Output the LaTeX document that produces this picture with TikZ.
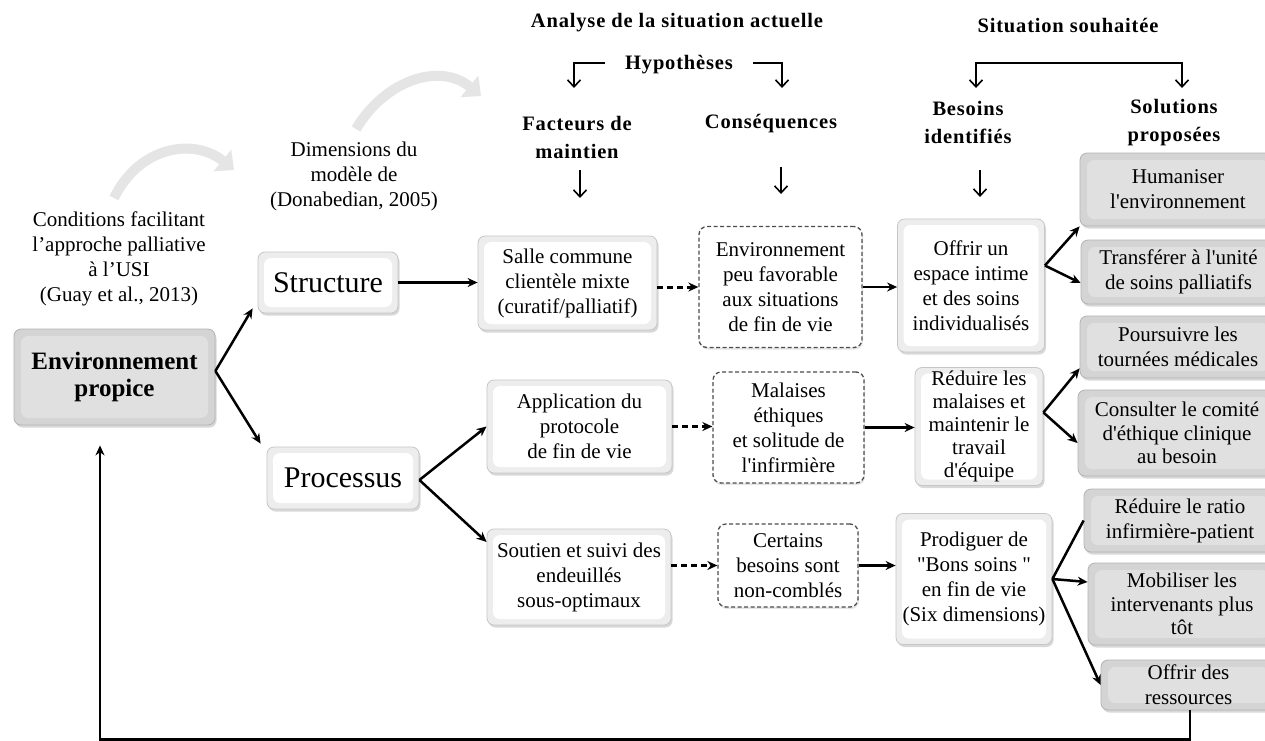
\documentclass[tikz,border=0pt]{standalone}
\usepackage{fontspec}
\setmainfont{Liberation Serif}
\newfontfamily\hfont[LetterSpace=4]{Liberation Serif}
\usetikzlibrary{arrows.meta,shadows}
\newcommand\myap{\textquotesingle}
\newcommand\mydq{\textquotedbl}
\begin{document}
\begin{tikzpicture}[x=1pt,y=-1pt,
  base/.style={inner sep=0pt, align=center, font=\fontsize{21}{25}\selectfont},
  hd/.style={inner sep=0pt, align=center, font=\hfont\bfseries\fontsize{20.5}{28}\selectfont},
  wb/.style={base, rectangle, rounded corners=7pt, draw=gray!45, line width=0.8pt, fill=gray!14,
     drop shadow={shadow xshift=1.5pt, shadow yshift=-2.5pt, opacity=0.3},
     path picture={\fill[white] ([shift={(6pt,-6pt)}]path picture bounding box.north west) rectangle ([shift={(-6pt,6pt)}]path picture bounding box.south east);}},
  gb/.style={base, rectangle, rounded corners=7pt, draw=gray!60, line width=0.8pt, fill=gray!34,
     drop shadow={shadow xshift=1.5pt, shadow yshift=-2.5pt, opacity=0.3},
     path picture={\fill[gray!24] ([shift={(7pt,-7pt)}]path picture bounding box.north west) rectangle ([shift={(-7pt,7pt)}]path picture bounding box.south east);}},
  db/.style={base, rectangle, rounded corners=8pt, draw=black!70, dash pattern=on 4pt off 2.5pt, line width=1.3pt, fill=white,
     drop shadow={shadow xshift=1pt, shadow yshift=-2pt, opacity=0.2}},
  arr/.style={line width=2.5pt, -{Stealth[length=10pt,width=9pt]}},
  darr/.style={arr, line width=3pt, dash pattern=on 6pt off 4pt},
  harr/.style={line width=1.6pt, -{Straight Barb[length=7pt,width=13pt]}},
  hboth/.style={line width=1.6pt, {Straight Barb[length=7pt,width=13pt]}-{Straight Barb[length=7pt,width=13pt]}},
  curv/.style={line width=10pt, gray!20, -{Triangle[length=15pt,width=27pt]}}
]
\clip (0,0) rectangle (1265,740);
\fill[white] (0,0) rectangle (1265,740);

% decorative curved arrows
\draw[curv] (114,198) .. controls (140,145) and (195,138) .. (234,170);
\draw[curv] (356,129) .. controls (385,80) and (440,62) .. (481,96);

% headers
\node[hd] (ana) at (677,23) {Analyse de la situation actuelle};
\node[hd] (hyp) at (679,65) {Hypothèses};
\node[hd] (fac) at (577,137) {Facteurs de\\maintien};
\node[hd] (csq) at (771,124) {Conséquences};
\node[hd] (sit) at (1068,25) {Situation souhaitée};
\node[hd] (bes) at (968,122) {Besoins\\identifiés};
\node[hd] (sol) at (1174,123) {Solutions\\proposées};

% left texts
\node[base] (cond) at (119,258.5) {Conditions facilitant\\l’approche palliative\\à l’USI\\(Guay et al., 2013)};
\node[base] (dim) at (354,176) {Dimensions du\\modèle de\\(Donabedian, 2005)};

% main nodes
\node[gb, minimum width=201pt, minimum height=96pt, font=\fontsize{25}{27}\selectfont\bfseries] (env) at (114.5,377) {Environnement\\propice};
\node[wb, minimum width=140pt, minimum height=61pt, font=\fontsize{30}{34}\selectfont] (str) at (328,282.5) {Structure};
\node[wb, minimum width=152pt, minimum height=62pt, font=\fontsize{30}{34}\selectfont] (proc) at (343,478) {Processus};

\node[wb, minimum width=179pt, minimum height=94pt] (salle) at (567.5,283) {Salle commune\\clientèle mixte\\(curatif/palliatif)};
\node[wb, minimum width=185pt, minimum height=93pt] (app) at (579.5,426.5) {Application du\\protocole\\de fin de vie};
\node[wb, minimum width=184pt, minimum height=96pt] (sout) at (579,577) {Soutien et suivi des\\endeuillés\\sous-optimaux};

\node[db, minimum width=163pt, minimum height=121pt] (envp) at (780.5,287) {Environnement\\peu favorable\\aux situations\\de fin de vie};
\node[db, minimum width=151pt, minimum height=111pt] (mal) at (788.5,427.5) {Malaises\\éthiques\\et solitude de\\l\myap infirmière};
\node[db, minimum width=140pt, minimum height=83pt] (cert) at (788,565.5) {Certains\\besoins sont\\non-comblés};

\node[wb, minimum width=147pt, minimum height=133pt] (offr) at (971,285.5) {Offrir un\\espace intime\\et des soins\\individualisés};
\node[wb, minimum width=128pt, minimum height=118pt, font=\fontsize{21}{23}\selectfont] (red) at (979,426.5) {Réduire les\\malaises et\\maintenir le\\travail\\d\myap équipe};
\node[wb, minimum width=156pt, minimum height=131pt] (prod) at (974,579) {Prodiguer de\\\mydq Bons soins \mydq\\en fin de vie\\(Six dimensions)};

\node[gb, minimum width=196pt, minimum height=73pt] (hum) at (1178,189.5) {Humaniser\\l\myap environnement};
\node[gb, minimum width=195pt, minimum height=64pt] (trans) at (1178.5,272) {Transférer à l\myap unité\\de soins palliatifs};
\node[gb, minimum width=196pt, minimum height=62pt] (pours) at (1178,347) {Poursuivre les\\tournées médicales};
\node[gb, minimum width=198pt, minimum height=86pt, font=\fontsize{21}{23.5}\selectfont] (cons) at (1177,433) {Consulter le comité\\d\myap éthique clinique\\au besoin};
\node[gb, minimum width=192pt, minimum height=63pt] (ratio) at (1180,520.5) {Réduire le ratio\\infirmière-patient};
\node[gb, minimum width=188pt, minimum height=82pt, font=\fontsize{21}{23.5}\selectfont] (mob) at (1182,604) {Mobiliser les\\intervenants plus\\tôt};
\node[gb, minimum width=175pt, minimum height=50pt, font=\fontsize{21}{25}\selectfont] (res) at (1188.5,685) {Offrir des\\ressources};

% header arrows
\coordinate (hl) at (574,88);
\coordinate (hr) at (782,88);
\draw[harr] ([xshift=-20pt,yshift=2pt]hyp.west) -| (hl);
\draw[harr] ([xshift=20pt,yshift=2pt]hyp.east) -| (hr);
\coordinate (fa1) at (580,170); \coordinate (fa2) at (580,198);
\draw[harr] (fa1) -- (fa2);
\coordinate (cs1) at (781,167); \coordinate (cs2) at (781,194);
\draw[harr] (cs1) -- (cs2);
\coordinate (be1) at (980,170); \coordinate (be2) at (980,197);
\draw[harr] (be1) -- (be2);
\coordinate (sl) at (976,88);
\coordinate (sr) at (1182,88);
\draw[hboth] (sl) |- ([yshift=25pt]sr) -- (sr);

% connectors
\draw[arr] ([yshift=6pt]env.east) -- ([shift={(-5pt,5pt)}]str.south west);
\draw[arr] ([yshift=6pt]env.east) -- ([shift={(-6pt,3pt)}]proc.north west);
\draw[arr] ([yshift=-2pt]proc.east) -- (app.west);
\draw[arr] ([yshift=-2pt]proc.east) -- ([yshift=35pt]sout.west);

\draw[arr] (str.east) -- (salle.west |- str.east);
\draw[darr] (salle.east |- envp.west) -- (envp.west);
\draw[arr] (envp.east) -- (offr.west |- envp.east);
\draw[darr] (app.east) -- (mal.west |- app.east);
\draw[arr] (mal.east) -- (red.west |- mal.east);
\draw[darr] (sout.east |- cert.west) -- (cert.west);
\draw[arr] (cert.east) -- (prod.west |- cert.east);

\draw[arr] ([yshift=20pt]offr.east) -- (hum.south west);
\draw[arr] ([yshift=20pt]offr.east) -- ([yshift=-11pt]trans.west);
\draw[arr] ([yshift=14pt]red.east) -- ([yshift=10pt]pours.south west);
\draw[arr] ([yshift=14pt]red.east) -- ([yshift=-10pt]cons.west);
\draw[line width=2.5pt] (prod.east) -- (ratio.west);
\draw[arr] (prod.east) -- ([yshift=22pt]mob.west);
\draw[arr] (prod.east) -- (res.west);

\draw[arr] ([xshift=1.5pt]res.south) |- ([xshift=-14.5pt,yshift=-314pt]env.south) -- ([xshift=-14.5pt,yshift=-20pt]env.south);
\end{tikzpicture}
\end{document}
